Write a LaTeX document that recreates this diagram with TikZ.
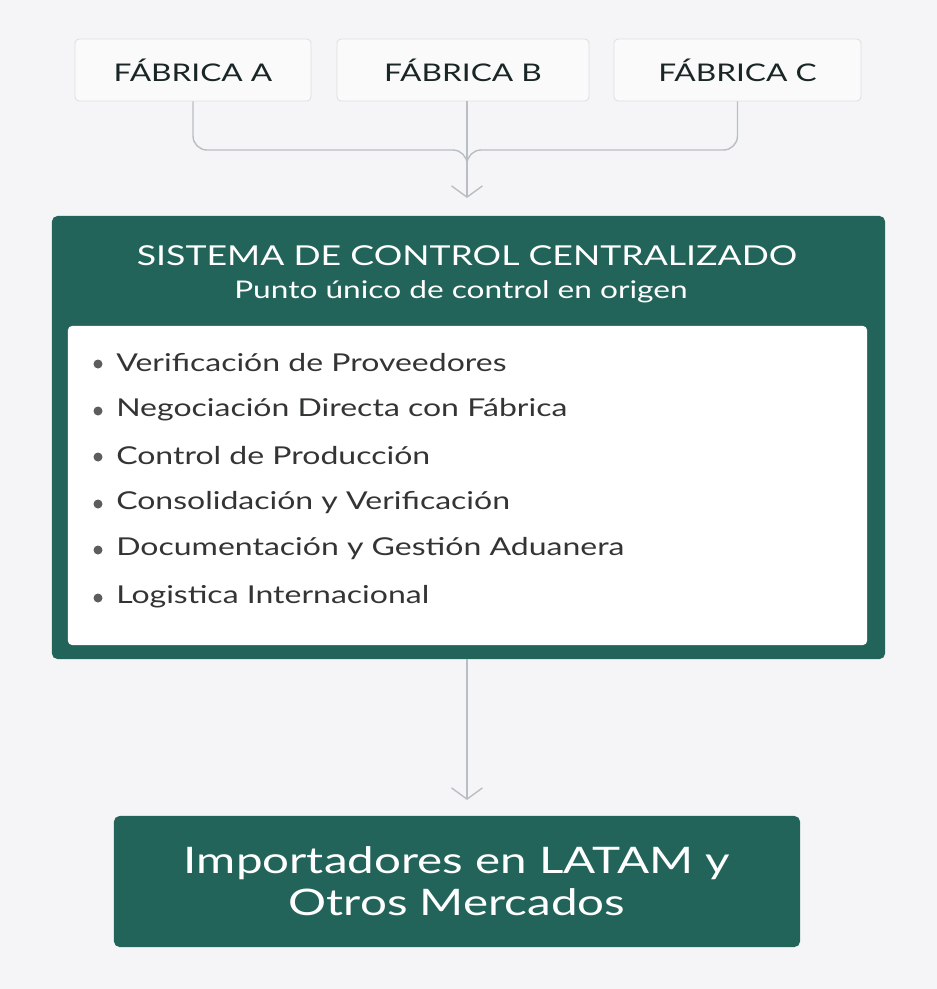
\documentclass[tikz,border=0pt]{standalone}
\usepackage{fontspec}
\setmainfont{Lato}[FakeStretch=1.3]
\usetikzlibrary{arrows.meta}
\definecolor{bgpage}{HTML}{F5F5F7}
\definecolor{darkgreen}{HTML}{23645A}
\definecolor{boxline}{HTML}{DCDFE3}
\definecolor{boxfill}{HTML}{FAFAFB}
\definecolor{linkgray}{HTML}{B9BEC5}
\definecolor{inktext}{HTML}{1A2626}
\definecolor{itemtext}{HTML}{333535}
\begin{document}
\begin{tikzpicture}[x=0.025cm, y=-0.025cm]
    \tikzstyle{factory}=[rectangle,rounded corners=3pt,draw=boxline,fill=boxfill,line width=0.6pt,
                         minimum height=1.55cm,text=inktext,font=\fontsize{17.3}{20}\selectfont]
    \tikzstyle{greenbox}=[rectangle,rounded corners=4pt,fill=darkgreen]
    \tikzstyle{itemline}=[anchor=west,text=itemtext,inner sep=0pt,font=\fontsize{17.5}{20}\selectfont]
    \tikzstyle{link}=[draw=linkgray,line width=1pt]
    \useasboundingbox[fill=bgpage] (0,0) rectangle (937,989);

    \node[factory, minimum width=5.9cm]   (fabA) at (193,70)   {FÁBRICA A};
    \node[factory, minimum width=6.3cm]   (fabB) at (463,70)   {FÁBRICA B};
    \node[factory, minimum width=6.175cm] (fabC) at (737.5,70) {FÁBRICA C};

    \node[greenbox, minimum width=20.825cm, minimum height=11.075cm] (control) at (468.5,437.5) {};
    \node[text=white, font=\fontsize{19.5}{22}\selectfont] (title) at (467,256) {SISTEMA DE CONTROL CENTRALIZADO};
    \node[text=white, font=\fontsize{17.3}{20}\selectfont] (sub)   at (461,292) {Punto único de control en origen};
    \node[rectangle, rounded corners=3pt, fill=white, minimum width=19.975cm, minimum height=7.975cm] (inner) at (467.5,485.5) {};

    \fill[itemtext!80] (98,364) circle (3.2pt)
                       (98,411) circle (3.2pt)
                       (98,457) circle (3.2pt)
                       (98,504) circle (3.2pt)
                       (98,550) circle (3.2pt)
                       (98,598) circle (3.2pt);
    \node[itemline] (item1) at (116,363) {Verificación de Proveedores};
    \node[itemline] (item2) at (116,410) {Negociación Directa con Fábrica};
    \node[itemline] (item3) at (116,456) {Control de Producción};
    \node[itemline] (item4) at (116,503) {Consolidación y Verificación};
    \node[itemline] (item5) at (116,549) {Documentación y Gestión Aduanera};
    \node[itemline] (item6) at (116,597) {Logistica Internacional};

    \node[greenbox, minimum width=17.15cm, minimum height=3.275cm, text=white, align=center,
          font=\fontsize{26}{30}\selectfont] (market) at (457,881.5) {Importadores en LATAM y\\Otros Mercados};

    \coordinate (merge) at (467,150);
    \coordinate (tipA)  at (467,198);
    \coordinate (tipB)  at (467,800);

    \draw[link, rounded corners=10pt] (fabA.south) -- (fabA.south |- merge) -- (merge) -- (467,175);
    \draw[link, rounded corners=10pt] (fabC.south) -- (fabC.south |- merge) -- (merge) -- (467,175);
    \draw[link, -{Straight Barb[length=8pt,width=22pt]}] (fabB.south -| merge) -- (tipA);
    \draw[link, -{Straight Barb[length=8pt,width=22pt]}] (control.south -| tipB) -- (tipB);

\end{tikzpicture}
\end{document}
